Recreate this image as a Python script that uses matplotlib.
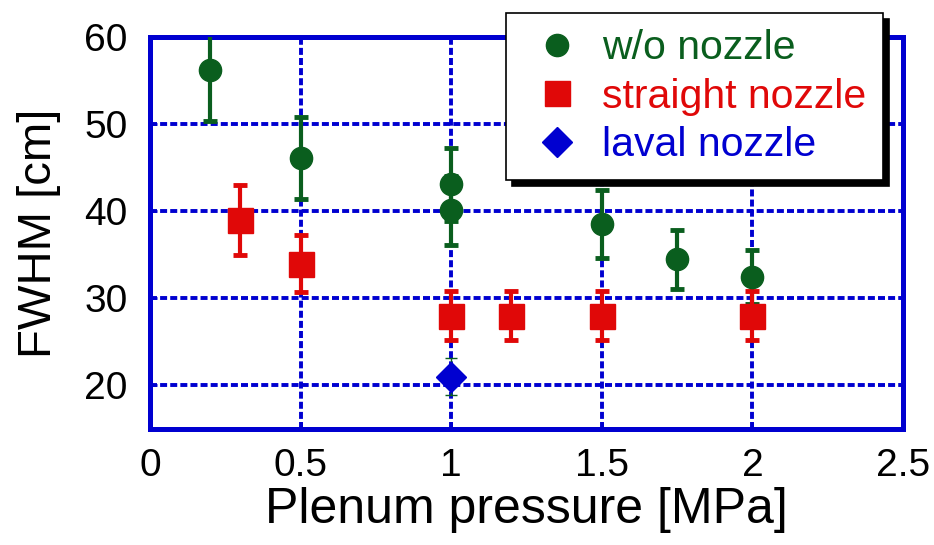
import matplotlib.pyplot as plt
from matplotlib.lines import Line2D

# w/o nozzle
p_none = [0.2, 0.5, 1.0, 1.0, 1.5, 1.75, 2.0]
fwhm_none = [56.2, 46.1, 43.1, 40.1, 38.5, 34.5, 32.4]
err_none = [5.8, 4.7, 4.2, 4.0, 3.9, 3.4, 3.1]

# straight nozzle
p_straight = [0.3, 0.5, 1.0, 1.2, 1.5, 2.0]
fwhm_straight = [39.0, 34.0, 28.0, 28.0, 28.0, 28.0]
err_straight = [4.0, 3.3, 2.8, 2.8, 2.8, 2.8]

# laval nozzle
p_laval = [1.0]
fwhm_laval = [21.0]
err_laval = [2.1]

labels = ["w/o nozzle", "straight nozzle", "laval nozzle"]

green = "#0a5e1e"
red = "#e00808"
blue = "#0000d0"

plt.rcParams["font.family"] = ["Liberation Sans", "DejaVu Sans"]

fig = plt.figure(figsize=(9.34, 5.45), dpi=100)
ax = fig.add_axes([0.1606, 0.2128, 0.8062, 0.7192])

ax.errorbar(p_none, fwhm_none, yerr=err_none, fmt="o", color=green, ms=16,
            elinewidth=3, capsize=4.7, capthick=3.5, zorder=3)
ax.errorbar(p_straight, fwhm_straight, yerr=err_straight, fmt="s", color=red, ms=18,
            elinewidth=3, capsize=4.7, capthick=3.5, zorder=3)
ax.errorbar(p_laval, fwhm_laval, yerr=err_laval, fmt="D", color=blue, ms=15,
            ecolor=green, elinewidth=1, capsize=4, capthick=1, zorder=3)

ax.set_xlim(0, 2.5)
ax.set_ylim(15, 60)
ax.set_xticks([0, 0.5, 1, 1.5, 2, 2.5])
ax.set_xticklabels(["0", "0.5", "1", "1.5", "2", "2.5"])
ax.set_yticks([20, 30, 40, 50, 60])
ax.tick_params(direction="in", length=5, width=2, color=blue, labelsize=28)
ax.tick_params(axis="y", pad=16)
ax.tick_params(axis="x", pad=14)
ax.grid(True, color=blue, linestyle=(0, (1.8, 0.8)), linewidth=2.8)
ax.set_axisbelow(True)
for s in ax.spines.values():
    s.set_color(blue)
    s.set_linewidth(3.6)

ax.set_xlabel("Plenum pressure [MPa]", fontsize=36)
ax.xaxis.set_label_coords(0.5, -0.148)
ax.set_ylabel("FWHM [cm]", fontsize=34)
ax.yaxis.set_label_coords(-0.118, 0.5)

handles = [Line2D([], [], ls="none", marker="o", color=green, ms=16),
           Line2D([], [], ls="none", marker="s", color=red, ms=18),
           Line2D([], [], ls="none", marker="D", color=blue, ms=15)]
leg = ax.legend(handles, labels, loc="upper right",
                bbox_to_anchor=(883 / 934, 1 - 13 / 545),
                bbox_transform=fig.transFigure, fontsize=29.5, frameon=True,
                fancybox=False, shadow={"color": "black", "alpha": 1.0, "ox": 4, "oy": -4},
                borderpad=0.4, borderaxespad=0, labelspacing=0.25,
                handletextpad=0.25, handlelength=1.7, framealpha=1)
leg.get_frame().set_edgecolor("black")
leg.get_frame().set_linewidth(1.2)
for txt, c in zip(leg.get_texts(), [green, red, blue]):
    txt.set_color(c)

fig.savefig("out.png", dpi=100)
